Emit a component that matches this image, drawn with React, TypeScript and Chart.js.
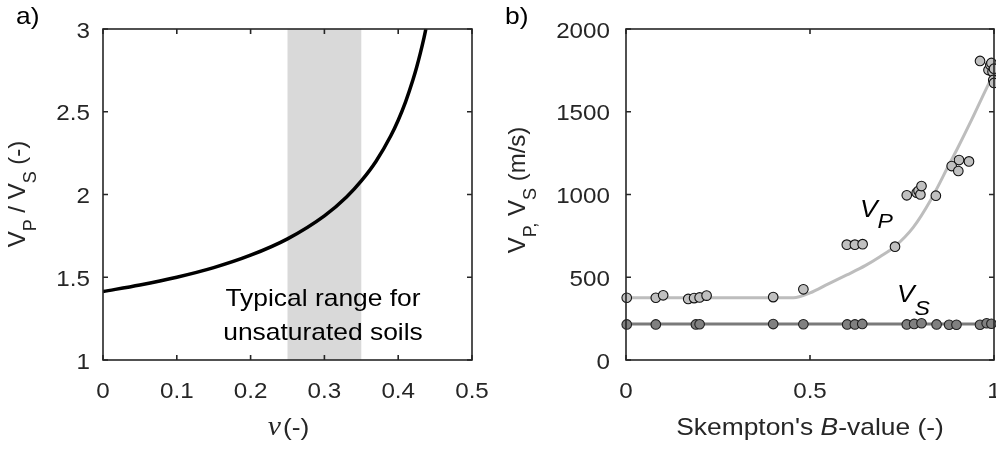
import React, { useEffect, useRef } from "react";
import { Chart, registerables } from "chart.js";

Chart.register(...registerables);

// ---------- Panel a: VP/VS against Poisson's ratio ----------
const poissonRatio = [0, 0.05, 0.1, 0.15, 0.2, 0.25, 0.3, 0.33, 0.35, 0.37, 0.39, 0.4, 0.41, 0.42, 0.425, 0.43, 0.435, 0.4375];
const velocityRatio = [1.414, 1.453, 1.5, 1.558, 1.633, 1.732, 1.871, 1.985, 2.082, 2.201, 2.355, 2.449, 2.56, 2.693, 2.769, 2.854, 2.948, 3.0];
const unsaturatedRange = [0.25, 0.35];
const ratioXTicks = [0, 0.1, 0.2, 0.3, 0.4, 0.5];
const ratioYTicks = [1, 1.5, 2, 2.5, 3];

// ---------- Panel b: wave velocities against Skempton's B ----------
const vpB = [0.002, 0.081, 0.101, 0.169, 0.185, 0.2, 0.219, 0.4, 0.482, 0.6, 0.622, 0.643, 0.731, 0.763, 0.79, 0.795, 0.8, 0.803, 0.842, 0.885, 0.903, 0.905, 0.932, 0.962, 0.985, 0.99, 0.993, 0.996, 0.998, 1.0, 1.0];
const vpMeasured = [376, 376, 391, 369, 374, 378, 389, 380, 427, 697, 697, 700, 685, 995, 1011, 1022, 1000, 1051, 993, 1172, 1142, 1208, 1200, 1807, 1752, 1782, 1795, 1741, 1692, 1674, 1760];
const vsB = [0.002, 0.081, 0.19, 0.2, 0.4, 0.482, 0.601, 0.622, 0.642, 0.763, 0.783, 0.803, 0.844, 0.878, 0.898, 0.962, 0.98, 0.993];
const vsMeasured = [215, 215, 215, 216, 217, 216, 215, 215, 218, 215, 218, 222, 215, 213, 213, 213, 222, 219];
const vpFitB = [0, 0.455, 0.5, 0.55, 0.6, 0.65, 0.69, 0.73, 0.78, 0.83, 0.88, 0.9, 0.94, 0.975, 1.0];
const vpFit = [376, 376, 405, 460, 514, 570, 624, 685, 800, 975, 1190, 1275, 1455, 1620, 1735];
const vsFitB = [0, 1];
const vsFit = [217, 217];
const bXTicks = [0, 0.5, 1];
const velYTicks = [0, 500, 1000, 1500, 2000];

const SANS = "'Liberation Sans', Arial, Helvetica, sans-serif";
const SERIF = "'Liberation Serif', 'Times New Roman', serif";
const INK = "#262626";
const SX = 1.1;

type Run = { t: string; font: string; dy?: number; dx?: number };

function runsWidth(ctx: CanvasRenderingContext2D, runs: Run[]) {
  let w = 0;
  for (const r of runs) {
    ctx.font = r.font;
    w += (r.dx || 0) + ctx.measureText(r.t).width;
  }
  return w;
}

function drawRuns(
  ctx: CanvasRenderingContext2D,
  runs: Run[],
  x: number,
  y: number,
  opts: { align?: "left" | "center" | "right"; rotate?: number; sx?: number; color?: string } = {}
) {
  const { align = "left", rotate = 0, sx = SX, color = INK } = opts;
  ctx.save();
  ctx.translate(x, y);
  if (rotate) ctx.rotate(rotate);
  ctx.scale(sx, 1);
  const w = runsWidth(ctx, runs);
  let cx = align === "left" ? 0 : align === "center" ? -w / 2 : -w;
  ctx.fillStyle = color;
  ctx.textAlign = "left";
  ctx.textBaseline = "alphabetic";
  for (const r of runs) {
    ctx.font = r.font;
    cx += r.dx || 0;
    ctx.fillText(r.t, cx, r.dy || 0);
    cx += ctx.measureText(r.t).width;
  }
  ctx.restore();
}

function drawFrame(chart: any, xTicks: number[], yTicks: number[]) {
  const { ctx, chartArea, scales } = chart;
  const { left, right, top, bottom } = chartArea;
  ctx.save();
  ctx.strokeStyle = INK;
  ctx.lineWidth = 1.6;
  ctx.strokeRect(left, top, right - left, bottom - top);
  ctx.beginPath();
  for (const v of xTicks) {
    const px = scales.x.getPixelForValue(v);
    ctx.moveTo(px, bottom);
    ctx.lineTo(px, bottom - 5);
    ctx.moveTo(px, top);
    ctx.lineTo(px, top + 5);
  }
  for (const v of yTicks) {
    const py = scales.y.getPixelForValue(v);
    ctx.moveTo(left, py);
    ctx.lineTo(left + 5, py);
    ctx.moveTo(right, py);
    ctx.lineTo(right - 5, py);
  }
  ctx.stroke();
  ctx.restore();
}

function drawTickLabels(chart: any, xTicks: number[], yTicks: number[], yLabelRight: number, xBaseline: number) {
  const { ctx, scales } = chart;
  const font = `22px ${SANS}`;
  for (const v of xTicks) {
    drawRuns(ctx, [{ t: String(v), font }], scales.x.getPixelForValue(v), xBaseline, { align: "center" });
  }
  for (const v of yTicks) {
    drawRuns(ctx, [{ t: String(v), font }], yLabelRight, scales.y.getPixelForValue(v) + 8.5, { align: "right" });
  }
}

const panelAPlugin = {
  id: "panelA",
  beforeDatasetsDraw(chart: any) {
    const { ctx, chartArea, scales } = chart;
    const x0 = scales.x.getPixelForValue(unsaturatedRange[0]);
    const x1 = scales.x.getPixelForValue(unsaturatedRange[1]);
    ctx.save();
    ctx.fillStyle = "#d9d9d9";
    ctx.fillRect(x0, chartArea.top, x1 - x0, chartArea.bottom - chartArea.top);
    ctx.restore();
  },
  afterDatasetsDraw(chart: any) {
    const { ctx } = chart;
    const F = `24px ${SANS}`;
    const FS = `18px ${SANS}`;
    drawRuns(ctx, [{ t: "Typical range for", font: F }], 323, 306, { align: "center", color: "#000" });
    drawRuns(ctx, [{ t: "unsaturated soils", font: F }], 323, 340, { align: "center", color: "#000" });
    drawFrame(chart, ratioXTicks, ratioYTicks);
    drawTickLabels(chart, ratioXTicks, ratioYTicks, 90, 398);
    drawRuns(ctx, [{ t: "a)", font: F }], 16, 24, { color: "#000" });
    drawRuns(ctx, [{ t: "\u03bd", font: `italic 27px ${SERIF}` }], 281, 435, { align: "right" });
    drawRuns(ctx, [{ t: "(-)", font: F }], 283, 435);
    drawRuns(
      ctx,
      [
        { t: "V", font: F },
        { t: "P", font: FS, dy: 11 },
        { t: " / V", font: F },
        { t: "S", font: FS, dy: 11 },
        { t: " (-)", font: F },
      ],
      25,
      194,
      { align: "center", rotate: -Math.PI / 2, sx: 1 }
    );
  },
};

const panelBPlugin = {
  id: "panelB",
  afterDatasetsDraw(chart: any) {
    const { ctx } = chart;
    const F = `24px ${SANS}`;
    const FS = `18px ${SANS}`;
    drawFrame(chart, bXTicks, velYTicks);
    drawTickLabels(chart, bXTicks, velYTicks, 110, 398);
    drawRuns(ctx, [{ t: "b)", font: F }], 5, 24, { color: "#000" });
    drawRuns(
      ctx,
      [
        { t: "Skempton's ", font: F },
        { t: "B", font: `italic 24px ${SANS}` },
        { t: "-value (-)", font: F },
      ],
      310,
      435,
      { align: "center" }
    );
    drawRuns(
      ctx,
      [
        { t: "V", font: F },
        { t: "P,", font: FS, dy: 11 },
        { t: " V", font: F },
        { t: "S", font: FS, dy: 11 },
        { t: " (m/s)", font: F },
      ],
      25,
      190,
      { align: "center", rotate: -Math.PI / 2, sx: 1 }
    );
    const FI = `italic 24px ${SANS}`;
    const FIS = `italic 21px ${SANS}`;
    drawRuns(ctx, [{ t: "V", font: FI }, { t: "P", font: FIS, dy: 11 }], 360, 217, { color: "#000" });
    drawRuns(ctx, [{ t: "V", font: FI }, { t: "S", font: FIS, dy: 13 }], 397, 302, { color: "#000" });
  },
};

const pairs = (xs: number[], ys: number[]) => xs.map((x, i) => ({ x, y: ys[i] }));

export default function App() {
  const aRef = useRef<HTMLCanvasElement>(null);
  const bRef = useRef<HTMLCanvasElement>(null);

  useEffect(() => {
    const common = {
      responsive: false,
      animation: false as const,
      events: [] as any[],
      plugins: { legend: { display: false }, tooltip: { enabled: false } },
    };

    const chartA = new Chart(aRef.current as HTMLCanvasElement, {
      type: "line",
      data: {
        datasets: [
          {
            data: pairs(poissonRatio, velocityRatio),
            borderColor: "#000",
            borderWidth: 3.5,
            pointRadius: 0,
            cubicInterpolationMode: "monotone",
            fill: false,
          },
        ],
      },
      options: {
        ...common,
        layout: { padding: { left: 103, right: 28, top: 29, bottom: 89 } },
        scales: {
          x: { type: "linear", min: 0, max: 0.5, display: false },
          y: { type: "linear", min: 1, max: 3, display: false },
        },
      } as any,
      plugins: [panelAPlugin],
    });

    const chartB = new Chart(bRef.current as HTMLCanvasElement, {
      type: "scatter",
      data: {
        datasets: [
          {
            data: pairs(vsB, vsMeasured),
            backgroundColor: "#808080",
            borderColor: "#1f1f1f",
            borderWidth: 1.1,
            pointRadius: 4.8,
            clip: false,
            order: 0,
          },
          {
            data: pairs(vpB, vpMeasured),
            backgroundColor: "#c0c0c0",
            borderColor: "#111",
            borderWidth: 1.1,
            pointRadius: 4.8,
            clip: false,
            order: 0,
          },
          {
            data: pairs(vsFitB, vsFit),
            showLine: true,
            borderColor: "#7a7a7a",
            borderWidth: 3,
            pointRadius: 0,
            order: 1,
          },
          {
            data: pairs(vpFitB, vpFit),
            showLine: true,
            borderColor: "#bdbdbd",
            borderWidth: 3,
            pointRadius: 0,
            cubicInterpolationMode: "monotone",
            order: 1,
          },
        ],
      },
      options: {
        ...common,
        layout: { padding: { left: 126, right: 36, top: 29, bottom: 89 } },
        scales: {
          x: { type: "linear", min: 0, max: 1, display: false },
          y: { type: "linear", min: 0, max: 2000, display: false },
        },
      } as any,
      plugins: [panelBPlugin],
    });

    return () => {
      chartA.destroy();
      chartB.destroy();
    };
  }, []);

  return (
    <div
      style={{
        position: "fixed",
        left: 0,
        top: 0,
        width: 996,
        height: 449,
        overflow: "hidden",
        background: "#fff",
      }}
    >
      <canvas
        ref={aRef}
        width={500}
        height={449}
        style={{ position: "absolute", left: 0, top: 0, width: 500, height: 449 }}
      />
      <canvas
        ref={bRef}
        width={530}
        height={449}
        style={{ position: "absolute", left: 500, top: 0, width: 530, height: 449 }}
      />
    </div>
  );
}
